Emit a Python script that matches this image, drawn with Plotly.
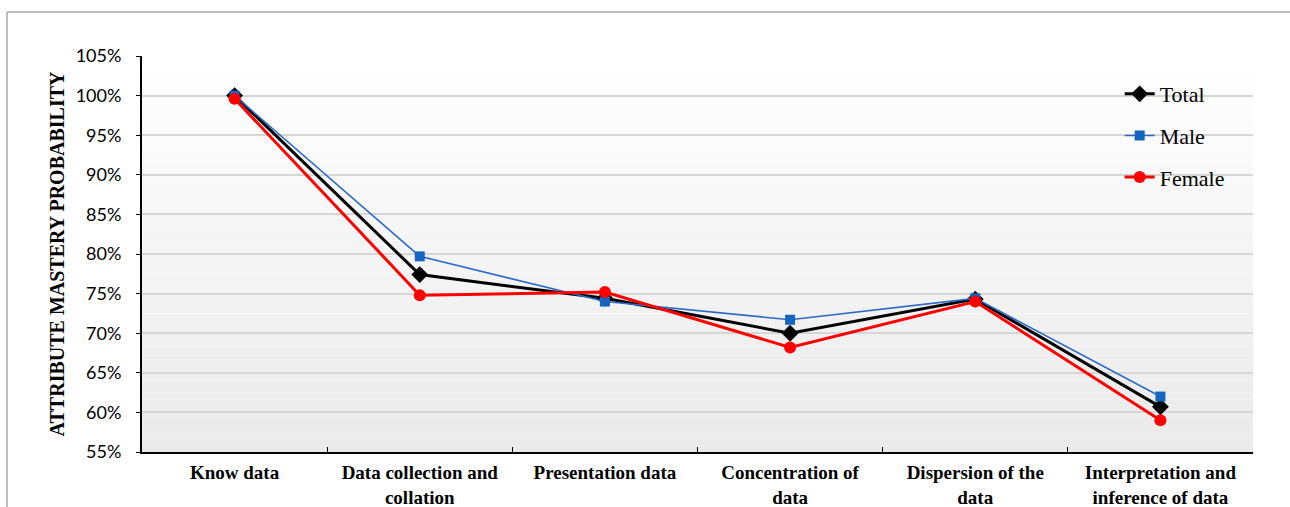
import plotly.graph_objects as go

# Attribute categories (x axis)
categories = [
    "Know data",
    "Data collection and<br>collation",
    "Presentation data",
    "Concentration of<br>data",
    "Dispersion of the<br>data",
    "Interpretation and<br>inference of data",
]

# Mastery probabilities (%)
total = [100.0, 77.4, 74.4, 70.0, 74.3, 60.7]
male = [100.0, 79.7, 74.0, 71.7, 74.4, 62.0]
female = [99.6, 74.8, 75.2, 68.2, 74.0, 59.0]

y_ticks = [55, 60, 65, 70, 75, 80, 85, 90, 95, 100, 105]
y_tick_text = [f"{v}%" for v in y_ticks]

fig = go.Figure()

fig.add_trace(go.Scatter(
    x=categories, y=total, name="Total", mode="lines+markers",
    line=dict(color="#000000", width=3),
    marker=dict(symbol="diamond", size=13, color="#000000"),
    legendgroup="t",
))
fig.add_trace(go.Scatter(
    x=categories, y=male, name="Male", mode="lines+markers",
    line=dict(color="#2e6ac4", width=1.6),
    marker=dict(symbol="square", size=10, color="#1565c0"),
    legendgroup="m",
))
fig.add_trace(go.Scatter(
    x=categories, y=female, name="Female", mode="lines+markers",
    line=dict(color="#ff0000", width=3),
    marker=dict(symbol="circle", size=12, color="#ff0000"),
    legendgroup="f",
))

# Vertical gradient behind the plot area (white at top to light gray at bottom)
shapes = []
n_bands = 60
for i in range(n_bands):
    t = i / (n_bands - 1)
    c = int(round(255 - (255 - 234) * t))
    shapes.append(dict(
        type="rect", xref="paper", yref="paper",
        x0=0, x1=1, y0=1 - (i + 1) / n_bands, y1=1 - i / n_bands,
        fillcolor=f"rgb({c},{c},{c})", line=dict(width=0), layer="below",
    ))

# Outer chart frame (top and left edges)
frame_line = dict(color="#a6a6a6", width=1.5)
shapes.append(dict(type="line", xref="paper", yref="paper",
                   x0=-0.1215, x1=1.04, y0=1.111, y1=1.111,
                   line=frame_line, layer="below"))
shapes.append(dict(type="line", xref="paper", yref="paper",
                   x0=-0.1215, x1=-0.1215, y0=-0.2, y1=1.111,
                   line=frame_line, layer="below"))

fig.update_layout(
    width=1290, height=507,
    margin=dict(l=142, r=37, t=56, b=55),
    paper_bgcolor="white",
    plot_bgcolor="rgba(0,0,0,0)",
    shapes=shapes,
    showlegend=True,
    legend=dict(
        x=0.88, y=0.957, xanchor="left", yanchor="top",
        bgcolor="rgba(0,0,0,0)",
        font=dict(family="Liberation Serif", size=22, color="#000000"),
        tracegroupgap=10,
        itemwidth=30,
    ),
    xaxis=dict(
        type="category",
        range=[-0.5, 5.5],
        automargin=False,
        showgrid=False,
        showline=True, linecolor="#000000", linewidth=2,
        ticks="inside", tickson="boundaries", ticklen=5, tickcolor="#000000",
        ticklabelstandoff=2,
        tickfont=dict(family="Liberation Serif", size=19, color="#000000",
                      weight="bold"),
        zeroline=False,
    ),
    yaxis=dict(
        range=[55, 105],
        automargin=False,
        tickvals=y_ticks, ticktext=y_tick_text,
        showgrid=True, gridcolor="#d6d6d6", gridwidth=1.5,
        showline=True, linecolor="#000000", linewidth=2,
        ticks="outside", ticklen=4, tickcolor="#000000",
        ticklabelstandoff=11,
        tickfont=dict(family="Lato", size=18, color="#000000"),
        title=dict(
            text="ATTRIBUTE MASTERY PROBABILITY",
            font=dict(family="Liberation Serif", size=20, color="#000000",
                      weight="bold"),
            standoff=6,
        ),
        zeroline=False,
    ),
)

fig.write_html("out.html")
